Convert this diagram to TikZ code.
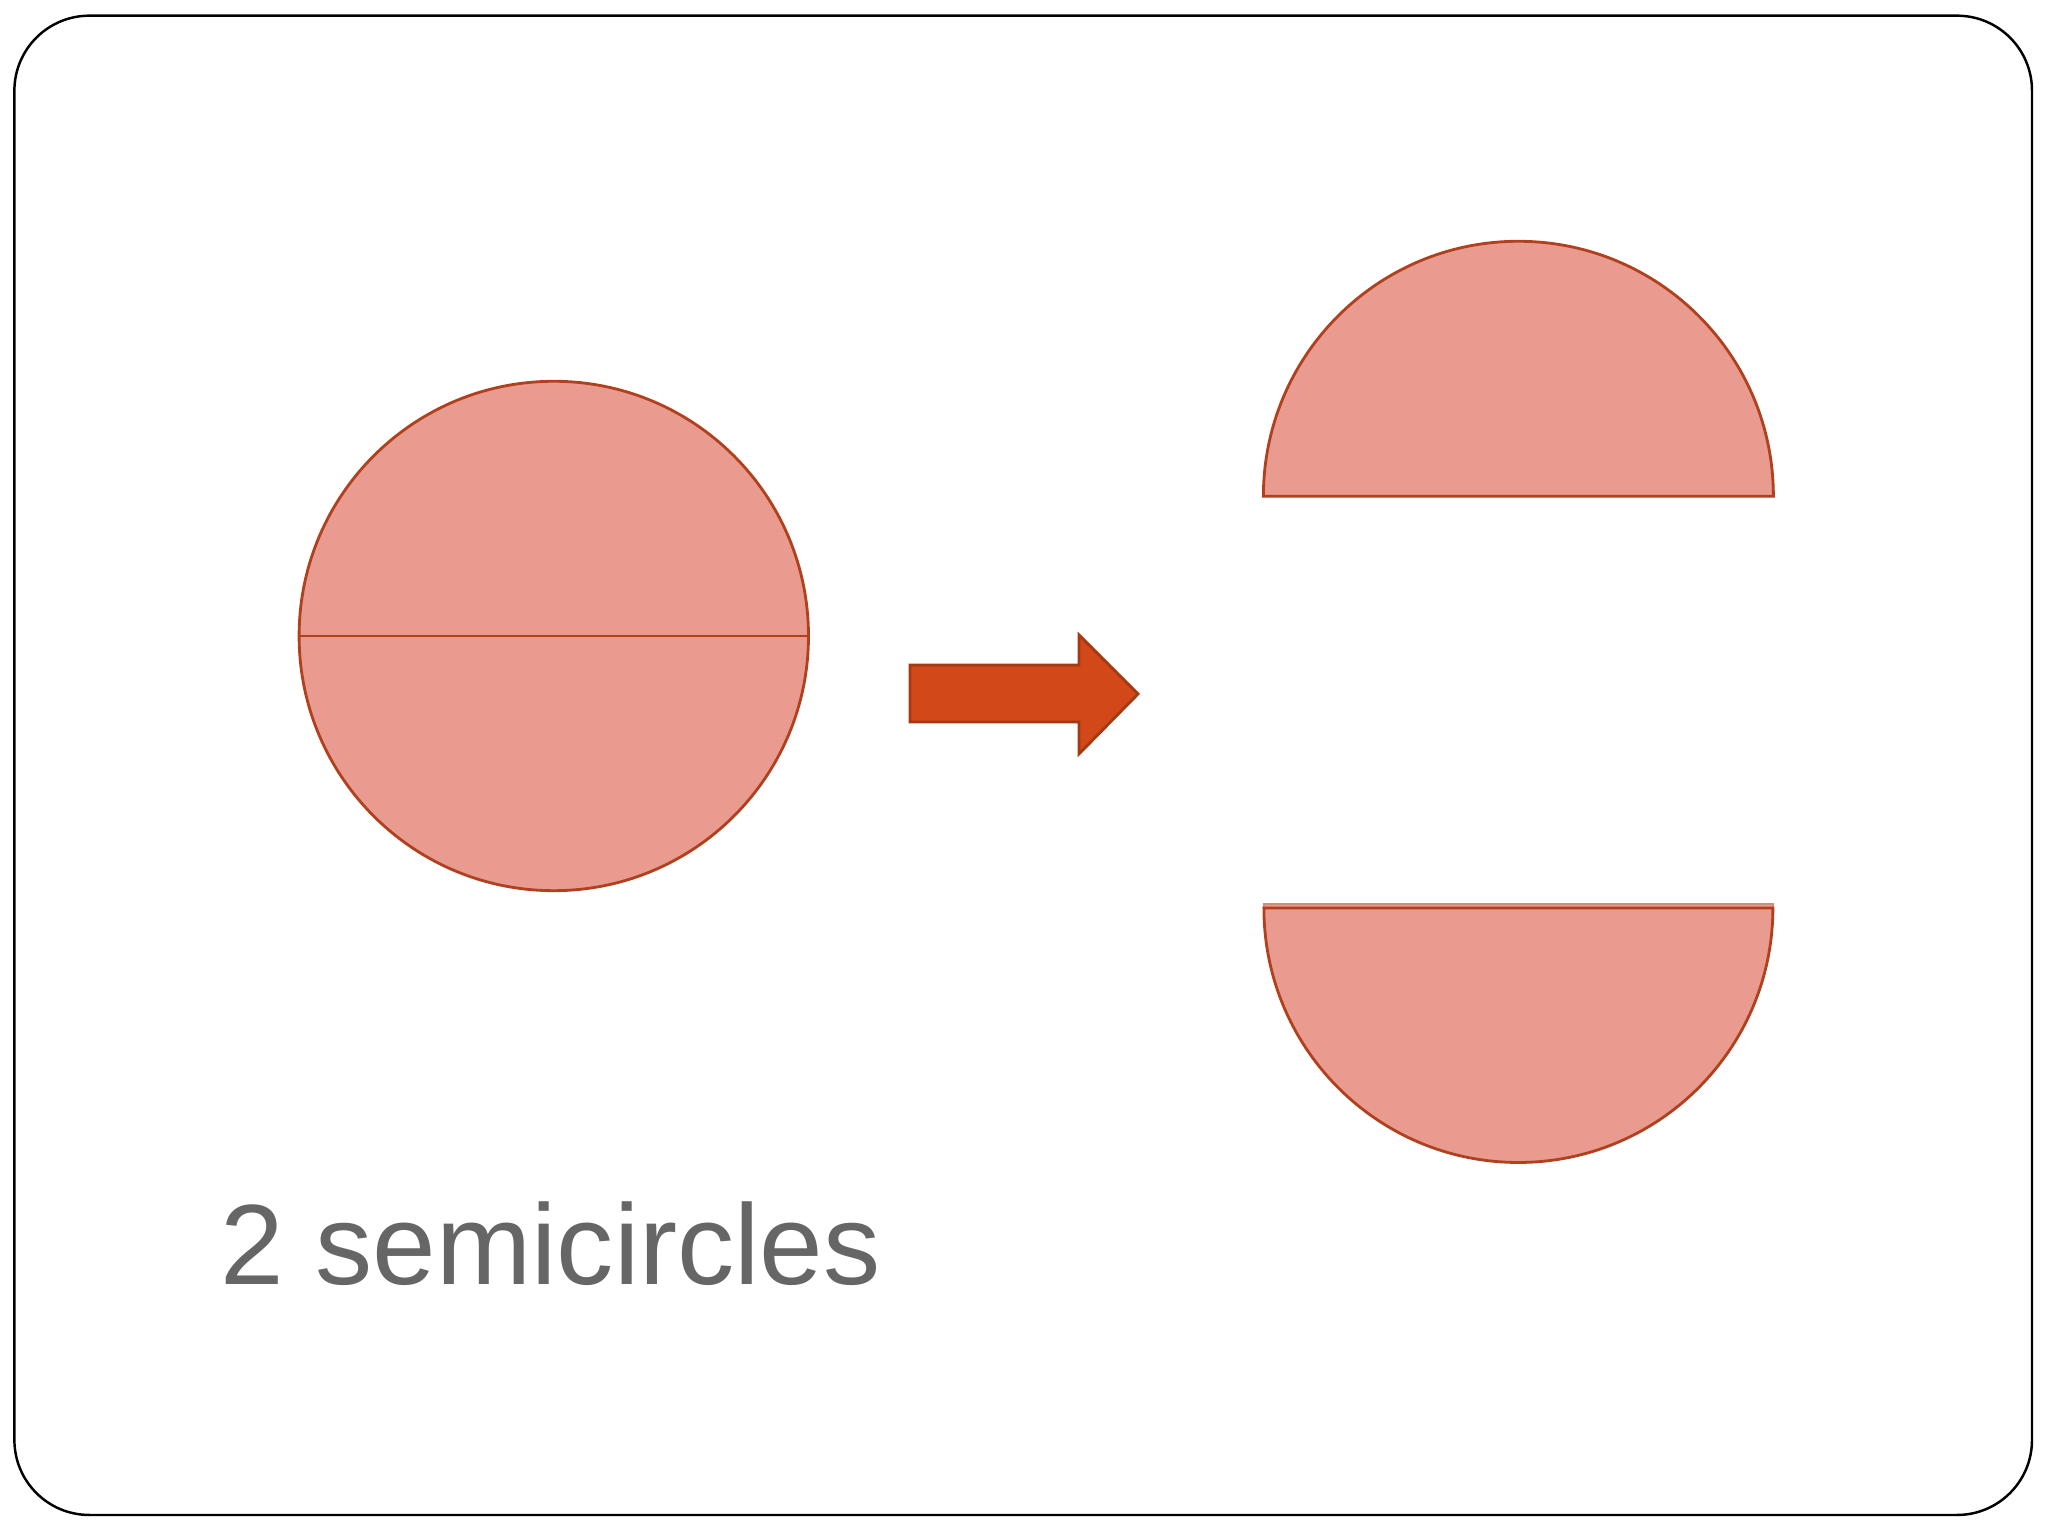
\documentclass[tikz,border=0pt]{standalone}
\usepackage{fontspec}
\setmainfont{Liberation Sans}
\usetikzlibrary{calc}
\definecolor{halfpink}{HTML}{E99B90}
\definecolor{halfedge}{HTML}{B0401E}
\definecolor{arrowfill}{HTML}{D24818}
\definecolor{arrowedge}{HTML}{A33A12}
\definecolor{labelgray}{HTML}{666666}
\tikzset{half/.style={fill=halfpink,draw=halfedge,line width=0.8pt},
slide/.style={draw=black,line width=0.7pt,rounded corners=7.5mm},
bigarrow/.style={fill=arrowfill,draw=arrowedge,line width=0.8pt,line join=miter}}
\begin{document}
\begin{tikzpicture}
\useasboundingbox (0,0) rectangle (20.48,15.36);
\draw[slide] (0.144,0.21) rectangle (20.32,15.203);
% whole circle cut along its diameter
\coordinate (C) at (5.538,9.00);
\draw[half] (C) circle[radius=2.547];
\draw[halfedge,line width=0.8pt] ($(C)+(-2.547,0)$) coordinate (CW) -- ($(C)+(2.547,0)$) coordinate (CE);
% the two halves
\coordinate (T) at (15.184,10.397);
\draw[half] ($(T)+(-2.55,0)$) coordinate (TW) arc[start angle=180,end angle=0,radius=2.55] coordinate (TE) -- cycle;
\coordinate (B) at (15.184,6.28);
\draw[half,draw=halfedge!60] ($(B)+(-2.545,0.04)$) coordinate (BW) -- ($(B)+(2.545,0.04)$) coordinate (BE)
-- ($(B)+(2.545,0)$) -- ($(B)+(-2.545,0)$) -- cycle;
\draw[half] ($(B)+(2.545,0)$) arc[start angle=0,end angle=-180,radius=2.545] -- cycle;
% arrow between them
\draw[bigarrow] (9.10,8.71) -- (10.79,8.71) -- (10.79,9.01) -- (11.38,8.42)
-- (10.79,7.82) -- (10.79,8.14) -- (9.10,8.14) -- cycle;
\node[anchor=base west,inner sep=0pt,text=labelgray,font=\fontsize{32.5}{38}\selectfont] (caption) at (2.20,2.51) {2 semicircles};
\end{tikzpicture}
\end{document}
